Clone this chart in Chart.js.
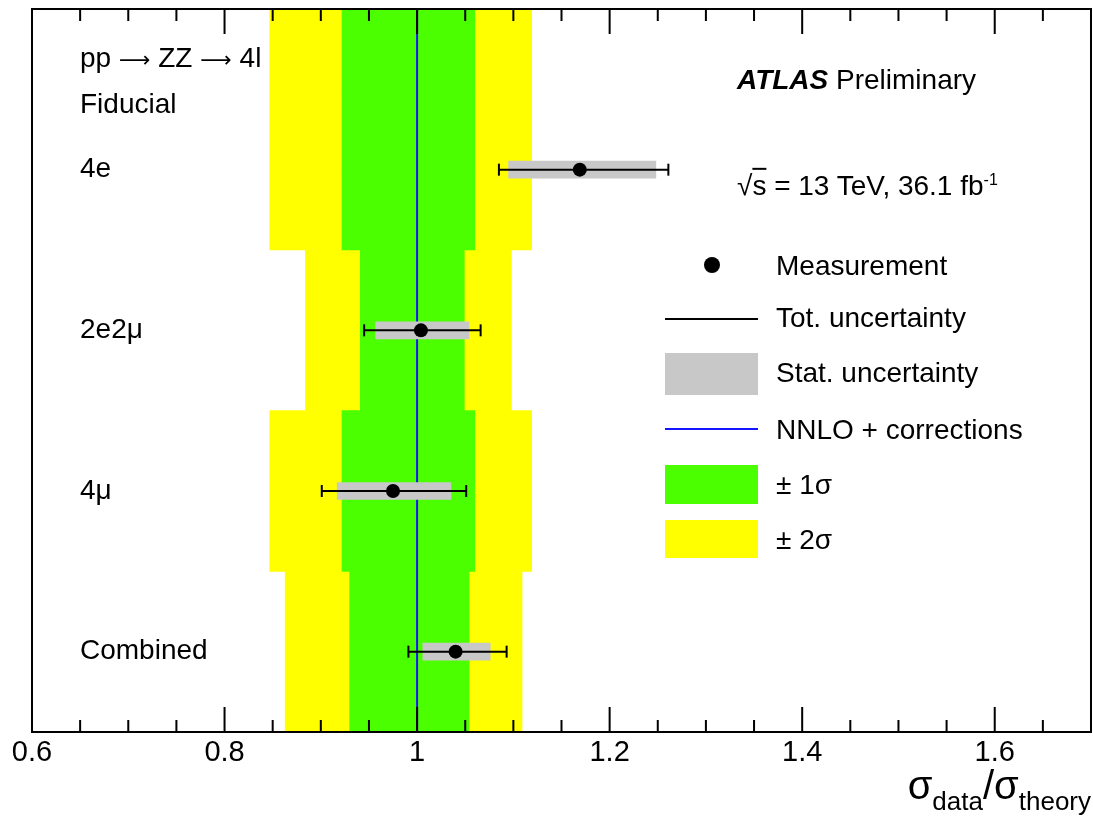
<!DOCTYPE html>
<html>
<head>
<meta charset="utf-8">
<title>ZZ fiducial cross-section ratios</title>
<script src="https://cdn.jsdelivr.net/npm/chart.js@4.4.1/dist/chart.umd.min.js"></script>
<style>
  body { margin: 0; background: #fff; font-family: "Liberation Sans", Arial, Helvetica, sans-serif; }
  #wrap { position: relative; width: 1093px; height: 826px; }
  .txt { position: absolute; font-size: 28px; line-height: 1; color: #000; white-space: nowrap; transform: translateY(-50%); }
  .arr { font-family: "DejaVu Sans", sans-serif; font-size: 22px; }
  .sw { position: absolute; left: 665px; width: 93px; }
  #xtitle { position: absolute; right: 2px; top: 765px; font-size: 40px; line-height: 1; white-space: nowrap; }
  #xtitle .sb { font-size: 26px; position: relative; top: 11px; }
</style>
</head>
<body>
<div id="wrap">
  <canvas id="ratioChart"></canvas>

  <div class="txt" style="left:80px; top:58px;">pp <span class="arr">&#x27F6;</span> ZZ <span class="arr">&#x27F6;</span> 4l</div>
  <div class="txt" style="left:80px; top:104px;">Fiducial</div>
  <div class="txt" style="left:737px; top:80px;"><b><i>ATLAS</i></b> Preliminary</div>
  <div class="txt" style="left:737px; top:186px;">&radic;<span style="text-decoration:overline">s</span> = 13 TeV, 36.1 fb<sup style="font-size:16px">-1</sup></div>

  <!-- legend -->
  <div style="position:absolute; left:704px; top:257px; width:16px; height:16px; border-radius:50%; background:#000;"></div>
  <div class="txt" style="left:776px; top:266px;">Measurement</div>
  <div class="sw" style="top:318px; height:2px; background:#000;"></div>
  <div class="txt" style="left:776px; top:318px;">Tot. uncertainty</div>
  <div class="sw" style="top:353px; height:42px; background:#c8c8c8;"></div>
  <div class="txt" style="left:776px; top:373px;">Stat. uncertainty</div>
  <div class="sw" style="top:428px; height:2px; background:#1414ff;"></div>
  <div class="txt" style="left:776px; top:430px;">NNLO + corrections</div>
  <div class="sw" style="top:465px; height:39px; background:#4cff00;"></div>
  <div class="txt" style="left:776px; top:485px;">&plusmn; 1&sigma;</div>
  <div class="sw" style="top:520px; height:38px; background:#ffff00;"></div>
  <div class="txt" style="left:776px; top:540px;">&plusmn; 2&sigma;</div>

  <div id="xtitle">&sigma;<span class="sb">data</span>/&sigma;<span class="sb">theory</span></div>
</div>

<script>
// rows, bottom to top
const categories = ['Combined', '4\u03bc', '2e2\u03bc', '4e'];
const rowY = [1, 2, 3, 4];

// measured ratio and its uncertainties
const measured = [1.040, 0.975, 1.004, 1.169];
const statLo = [1.006, 0.917, 0.957, 1.095];
const statHi = [1.076, 1.035, 1.054, 1.248];
const totLo = [0.991, 0.901, 0.945, 1.085];
const totHi = [1.093, 1.051, 1.066, 1.261];

// theory bands per row, row edges on the y axis
const rowEdges = [0.5, 1.5, 2.5, 3.5, 5.0];
const oneSigmaLo = [0.930, 0.922, 0.941, 0.922];
const oneSigmaHi = [1.054, 1.060, 1.049, 1.060];
const twoSigmaLo = [0.863, 0.847, 0.884, 0.847];
const twoSigmaHi = [1.109, 1.119, 1.098, 1.119];

const theory = 1.0;

const xMin = 0.6, xMax = 1.7;

function isMajor(v) {
    return Math.abs(v / 0.2 - Math.round(v / 0.2)) < 1e-6;
}

// split each row into half-unit slots so the bars fill the row exactly
let slots = [];
for (let i = 0; i < rowEdges.length - 1; i++) {
    for (let y = rowEdges[i] + 0.25; y < rowEdges[i + 1]; y += 0.5) {
        slots.push({ row: i, y: y });
    }
}

const frameTicks = {
    id: 'frameTicks',
    afterDraw(chart) {
        const { ctx, chartArea: a } = chart;
        const x = chart.scales.x;
        ctx.save();
        ctx.strokeStyle = '#000';
        ctx.lineWidth = 2;
        x.ticks.forEach(t => {
            const px = x.getPixelForValue(t.value);
            const len = isMajor(t.value) ? 25 : 12;
            ctx.beginPath();
            ctx.moveTo(px, a.bottom);
            ctx.lineTo(px, a.bottom - len);
            ctx.moveTo(px, a.top);
            ctx.lineTo(px, a.top + len);
            ctx.stroke();
        });
        ctx.strokeRect(a.left, a.top, a.right - a.left, a.bottom - a.top);
        ctx.restore();
    }
};

let datasets = [
    {
        type: 'bar',
        label: '\u00b1 2\u03c3',
        indexAxis: 'y',
        yAxisID: 'yb',
        data: slots.map(s => ({ x: [twoSigmaLo[s.row], twoSigmaHi[s.row]], y: s.y })),
        backgroundColor: '#ffff00',
        borderWidth: 0,
        grouped: false,
        barPercentage: 1,
        categoryPercentage: 1,
        order: 6
    },
    {
        type: 'bar',
        label: '\u00b1 1\u03c3',
        indexAxis: 'y',
        yAxisID: 'yb',
        data: slots.map(s => ({ x: [oneSigmaLo[s.row], oneSigmaHi[s.row]], y: s.y })),
        backgroundColor: '#4cff00',
        borderWidth: 0,
        grouped: false,
        barPercentage: 1,
        categoryPercentage: 1,
        order: 5
    },
    {
        type: 'line',
        label: 'NNLO + corrections',
        data: [{ x: theory, y: rowEdges[0] }, { x: theory, y: rowEdges[rowEdges.length - 1] }],
        borderColor: '#1414ff',
        borderWidth: 2,
        pointRadius: 0,
        order: 4
    },
    {
        type: 'bar',
        label: 'Stat. uncertainty',
        indexAxis: 'y',
        yAxisID: 'y',
        data: rowY.map((y, i) => ({ x: [statLo[i], statHi[i]], y: y })),
        backgroundColor: '#c8c8c8',
        borderWidth: 0,
        barThickness: 17,
        order: 3
    }
];

rowY.forEach((y, i) => {
    datasets.push({
        type: 'line',
        label: 'Tot. uncertainty',
        data: [{ x: totLo[i], y: y }, { x: totHi[i], y: y }],
        borderColor: '#000',
        borderWidth: 2,
        pointStyle: 'line',
        rotation: 90,
        pointRadius: 6,
        pointBorderWidth: 2,
        pointBorderColor: '#000',
        order: 2
    });
});

datasets.push({
    type: 'scatter',
    label: 'Measurement',
    data: rowY.map((y, i) => ({ x: measured[i], y: y })),
    backgroundColor: '#000',
    borderWidth: 0,
    pointRadius: 7,
    order: 1
});

const ratioChart = new Chart(document.getElementById('ratioChart'), {
    type: 'bar',
    data: { datasets: datasets },
    options: {
        responsive: true,
        maintainAspectRatio: false,
        animation: false,
        events: [],
        layout: {
            autoPadding: false,
            padding: { top: 9, right: 2, bottom: 0, left: 32 }
        },
        plugins: {
            legend: { display: false },
            tooltip: { enabled: false }
        },
        scales: {
            x: {
                type: 'linear',
                min: xMin,
                max: xMax,
                offset: false,
                grid: { display: false, drawTicks: false },
                border: { display: false },
                afterFit: s => {
                    s.height = 94;
                    s.paddingLeft = 0;
                    s.paddingRight = 0;
                },
                ticks: {
                    stepSize: 0.05,
                    autoSkip: false,
                    maxRotation: 0,
                    padding: 4,
                    color: '#000',
                    font: { family: '"Liberation Sans", Arial, sans-serif', size: 29 },
                    callback: v => isMajor(v) ? String(Number(v.toFixed(2))) : ''
                }
            },
            y: {
                type: 'linear',
                min: rowEdges[0],
                max: rowEdges[rowEdges.length - 1],
                offset: false,
                grid: { display: false, drawTicks: false },
                border: { display: false },
                afterFit: s => {
                    s.width = 0;
                    s.paddingTop = 0;
                    s.paddingBottom = 0;
                },
                afterBuildTicks: s => { s.ticks = rowY.map(v => ({ value: v })); },
                ticks: {
                    mirror: true,
                    padding: 48,
                    color: '#000',
                    font: { family: '"Liberation Sans", Arial, sans-serif', size: 28 },
                    callback: v => categories[rowY.indexOf(v)]
                }
            },
            yb: {
                type: 'linear',
                axis: 'y',
                display: false,
                min: rowEdges[0],
                max: rowEdges[rowEdges.length - 1],
                offset: false,
                ticks: { stepSize: 0.5 }
            }
        }
    },
    plugins: [frameTicks]
});
</script>
</body>
</html>
